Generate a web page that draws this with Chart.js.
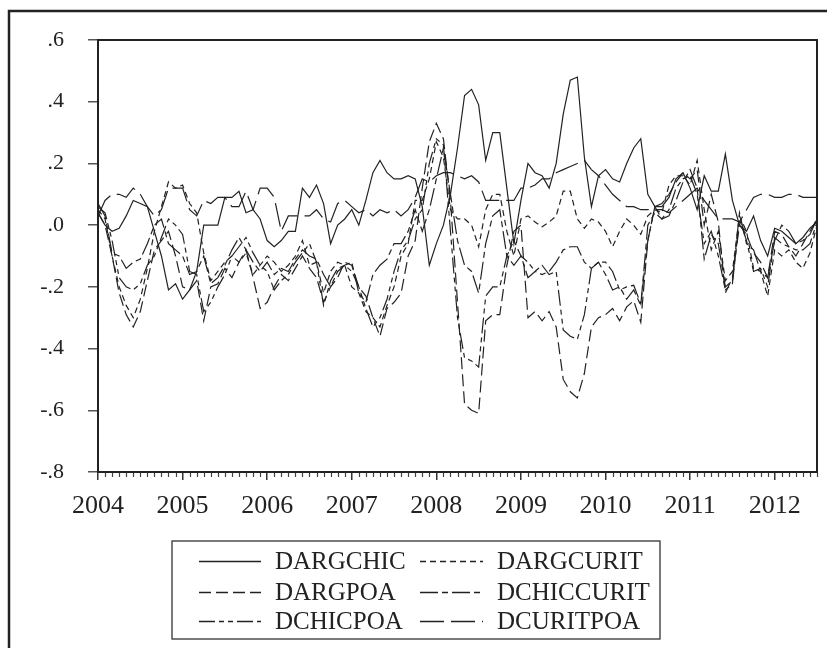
<!DOCTYPE html>
<html>
<head>
<meta charset="utf-8">
<script src="https://cdn.jsdelivr.net/npm/chart.js@4.4.1/dist/chart.umd.min.js"></script>
<style>
html,body{margin:0;padding:0;background:#fff;}
canvas{display:block;}
</style>
</head>
<body>
<canvas id="c" width="827" height="648"></canvas>
<script>
// ---- data (monthly, 2004M01 .. 2012M07) ----
const years = ['2004','2005','2006','2007','2008','2009','2010','2011','2012'];
const yTickLabels = ['-.8','-.6','-.4','-.2','.0','.2','.4','.6'];
const seriesNames = ['DARGCHIC','DARGCURIT','DARGPOA','DCHICCURIT','DCHICPOA','DCURITPOA'];

const DARGCHIC = [
 0.04, 0.00,-0.02,-0.01, 0.03, 0.08, 0.07, 0.06,-0.02,-0.10,-0.21,-0.19,
-0.24,-0.21,-0.15, 0.00, 0.00, 0.00, 0.09, 0.09, 0.11, 0.04, 0.05, 0.02,
-0.05,-0.07,-0.05,-0.02,-0.02, 0.12, 0.09, 0.13, 0.07,-0.06, 0.00, 0.02,
 0.05, 0.00, 0.08, 0.17, 0.21, 0.17, 0.15, 0.15, 0.16, 0.15, 0.06,-0.13,
-0.06, 0.00, 0.10, 0.25, 0.42, 0.44, 0.39, 0.21, 0.30, 0.30, 0.12,-0.06,
 0.08, 0.20, 0.17, 0.16, 0.12, 0.20, 0.36, 0.47, 0.48, 0.22, 0.06, 0.16,
 0.18, 0.15, 0.14, 0.20, 0.25, 0.28, 0.10, 0.06, 0.06, 0.09, 0.15, 0.17,
 0.12, 0.05, 0.16, 0.11, 0.11, 0.23, 0.08, 0.00,-0.02, 0.03,-0.05,-0.10,
-0.01,-0.02,-0.04,-0.06,-0.04,-0.01, 0.01];

const DARGCURIT = [
 0.05, 0.02,-0.10,-0.20,-0.26,-0.30,-0.24,-0.14,-0.02, 0.06, 0.14, 0.12,
 0.13, 0.07, 0.04,-0.09,-0.18,-0.15,-0.12,-0.10,-0.12,-0.09,-0.16,-0.13,
-0.10,-0.12,-0.15,-0.13,-0.10,-0.05,-0.13,-0.12,-0.22,-0.15,-0.12,-0.13,
-0.20,-0.22,-0.28,-0.30,-0.33,-0.26,-0.20,-0.10,-0.06, 0.08, 0.08, 0.15,
 0.27, 0.22, 0.05, 0.02, 0.02, 0.00,-0.07, 0.05, 0.10, 0.10,-0.02,-0.10,
 0.02, 0.03, 0.01,-0.005,0.01, 0.03, 0.11, 0.11, 0.02,-0.01, 0.02, 0.01,
-0.02,-0.07,-0.02, 0.02, 0.00,-0.03, 0.03, 0.05, 0.04, 0.13, 0.16, 0.16,
 0.13, 0.21, 0.05,-0.08,-0.02,-0.18,-0.15, 0.03,-0.02,-0.14,-0.15,-0.23,
-0.08,-0.10,-0.08,-0.12,-0.14,-0.09, 0.00];

const DARGPOA = [
 0.04, 0.00,-0.10,-0.22,-0.29,-0.33,-0.28,-0.18,-0.08,-0.05,-0.02,-0.10,
-0.20,-0.21,-0.18,-0.31,-0.20,-0.19,-0.14,-0.17,-0.12,-0.08,-0.17,-0.27,
-0.25,-0.20,-0.16,-0.18,-0.14,-0.10,-0.14,-0.17,-0.25,-0.20,-0.17,-0.12,
-0.13,-0.20,-0.23,-0.30,-0.36,-0.27,-0.25,-0.22,-0.10,-0.05, 0.12, 0.27,
 0.33, 0.28, 0.08,-0.25,-0.58,-0.60,-0.61,-0.31,-0.29,-0.29,-0.13,-0.02,
 0.00,-0.30,-0.28,-0.31,-0.28,-0.33,-0.50,-0.54,-0.56,-0.48,-0.33,-0.30,
-0.29,-0.27,-0.31,-0.265,-0.245,-0.315,-0.05, 0.06, 0.07, 0.10, 0.14, 0.17,
 0.15, 0.18, 0.00, 0.10, 0.01,-0.22,-0.17, 0.00,-0.03,-0.09,-0.12,-0.17,
-0.02,-0.03,-0.07,-0.10,-0.06,-0.02, 0.02];

const DCHICCURIT = [
 0.07, 0.03,-0.09,-0.10,-0.14,-0.12,-0.11,-0.06, 0.00, 0.02,-0.06,-0.08,
-0.10,-0.16,-0.15,-0.10,-0.19,-0.17,-0.13,-0.08,-0.04,-0.08,-0.12,-0.15,
-0.12,-0.16,-0.14,-0.15,-0.11,-0.08,-0.10,-0.11,-0.16,-0.20,-0.15,-0.13,
-0.12,-0.22,-0.25,-0.16,-0.13,-0.11,-0.06,-0.06,-0.02, 0.05,-0.02, 0.05,
 0.15, 0.25, 0.10,-0.05,-0.13,-0.15,-0.22,-0.06, 0.03, 0.05,-0.10,-0.13,
-0.10,-0.17,-0.15,-0.16,-0.15,-0.12,-0.08,-0.07,-0.07,-0.12,-0.14,-0.12,
-0.16,-0.21,-0.20,-0.24,-0.21,-0.26, 0.00, 0.04, 0.02, 0.03, 0.08, 0.14,
 0.18, 0.12,-0.11,-0.03,-0.06,-0.20,-0.18, 0.04,-0.06,-0.08,-0.15,-0.17,
-0.05, 0.00,-0.02,-0.06,-0.05,-0.03, 0.02];

const DCHICPOA = [
 0.06, 0.04,-0.05,-0.17,-0.20,-0.21,-0.19,-0.13,-0.10,-0.04, 0.02, 0.00,
-0.03,-0.15,-0.16,-0.28,-0.25,-0.20,-0.16,-0.10,-0.07,-0.04,-0.09,-0.13,
-0.15,-0.21,-0.18,-0.16,-0.12,-0.09,-0.06,-0.12,-0.26,-0.18,-0.14,-0.13,
-0.15,-0.20,-0.27,-0.33,-0.30,-0.24,-0.15,-0.08,-0.05, 0.02, 0.05, 0.20,
 0.28, 0.26,-0.02,-0.30,-0.43,-0.44,-0.46,-0.23,-0.20,-0.20,-0.10,-0.05,
-0.10,-0.12,-0.15,-0.13,-0.16,-0.15,-0.34,-0.36,-0.37,-0.29,-0.14,-0.12,
-0.12,-0.15,-0.21,-0.20,-0.195,-0.255,-0.05, 0.06, 0.02, 0.05, 0.12, 0.15,
 0.16, 0.10,-0.06,-0.02,-0.10,-0.21,-0.19, 0.02,-0.05,-0.15,-0.14,-0.20,
-0.04,-0.06,-0.07,-0.08,-0.08,-0.06, 0.01];

const DCURITPOA = [
 0.03, 0.08, 0.10, 0.10, 0.09, 0.12, 0.10, 0.06, 0.03, 0.05, 0.12, 0.12,
 0.12, 0.05, 0.03, 0.08, 0.07, 0.09, 0.09, 0.06, 0.06, 0.11, 0.05, 0.12,
 0.12, 0.09,-0.02, 0.03, 0.03, 0.03, 0.03, 0.05, 0.02, 0.01, 0.07, 0.08,
 0.06, 0.04, 0.05, 0.03, 0.05, 0.04, 0.05, 0.03, 0.05, 0.09, 0.15, 0.14,
 0.16, 0.17, 0.17, 0.16, 0.15, 0.16, 0.14, 0.08, 0.08, 0.08, 0.08, 0.08,
 0.12, 0.12, 0.13, 0.15, 0.15, 0.17, 0.18, 0.19, 0.20, 0.21, 0.18, 0.16,
 0.13, 0.10, 0.08, 0.06, 0.06, 0.05, 0.05, 0.05, 0.05, 0.04, 0.06, 0.08,
 0.10, 0.12, 0.08, 0.05, 0.02, 0.02, 0.02, 0.01, 0.05, 0.09, 0.10, 0.10,
 0.09, 0.09, 0.10, 0.10, 0.09, 0.09, 0.09];

const seriesValues = [DARGCHIC, DARGCURIT, DARGPOA, DCHICCURIT, DCHICPOA, DCURITPOA];

// ---- styles ----
const INK = '#222';
const FONT = '"Liberation Serif", "Times New Roman", serif';
const dashes = [[], [6,4], [12,5], [18,4,6,4], [16,4,5,4,5,4], [24,7]];

const datasets = seriesValues.map((vals, k) => ({
  label: seriesNames[k],
  data: vals.map((v, i) => ({x: i, y: v})),
  borderColor: INK,
  borderWidth: 1.2,
  borderDash: dashes[k],
  pointRadius: 0,
  tension: 0,
  fill: false
}));

const decor = {
  id: 'decor',
  afterDraw(chart) {
    const ctx = chart.ctx;
    const a = chart.chartArea;
    const xs = chart.scales.x;
    ctx.save();
    // outer frame (left & top)
    ctx.strokeStyle = INK;
    ctx.lineWidth = 2.5;
    ctx.beginPath();
    ctx.moveTo(9, 648); ctx.lineTo(9, 11); ctx.lineTo(827, 11);
    ctx.stroke();
    // plot box
    ctx.lineWidth = 2;
    ctx.strokeRect(a.left, a.top, a.right - a.left, a.bottom - a.top);
    // minor monthly ticks
    ctx.lineWidth = 1.2;
    ctx.strokeStyle = '#444';
    ctx.beginPath();
    for (let i = 0; i < DARGCHIC.length; i++) {
      if (i % 12 === 0) continue;
      const px = Math.round(xs.getPixelForValue(i)) + 0.5;
      ctx.moveTo(px, a.bottom + 1);
      ctx.lineTo(px, a.bottom + 5);
    }
    ctx.stroke();
    // legend
    const bx = 172, by = 541, bw = 488, bh = 98;
    ctx.lineWidth = 1.3;
    ctx.strokeStyle = '#333';
    ctx.strokeRect(bx, by, bw, bh);
    const rowsY = [561, 592, 621];
    const lineX = [[199, 261], [420, 483]];
    const textX = [275, 497];
    ctx.font = '25px ' + FONT;
    ctx.textBaseline = 'middle';
    ctx.fillStyle = INK;
    seriesNames.forEach((name, k) => {
      const col = k % 2, row = Math.floor(k / 2);
      const y = rowsY[row];
      ctx.setLineDash(dashes[k]);
      ctx.lineWidth = 1.3;
      ctx.strokeStyle = INK;
      ctx.beginPath();
      ctx.moveTo(lineX[col][0], y + 0.5);
      ctx.lineTo(lineX[col][1], y + 0.5);
      ctx.stroke();
      ctx.setLineDash([]);
      ctx.fillText(name, textX[col], y + 1);
    });
    ctx.restore();
  }
};

new Chart(document.getElementById('c'), {
  type: 'line',
  data: { datasets },
  plugins: [decor],
  options: {
    responsive: false,
    animation: false,
    devicePixelRatio: 1,
    layout: { padding: { top: 40, right: 10, left: 0, bottom: 0 } },
    plugins: { legend: { display: false }, tooltip: { enabled: false } },
    scales: {
      x: {
        type: 'linear',
        min: 0,
        max: DARGCHIC.length - 1,
        afterFit(s) { s.height = 176; },
        afterBuildTicks(s) { s.ticks = s.ticks.filter(t => Math.round(t.value) % 12 === 0); },
        ticks: {
          stepSize: 12, includeBounds: false, autoSkip: false, maxRotation: 0, padding: 11,
          color: INK, font: { family: FONT, size: 26 },
          callback: v => years[Math.round(v / 12)]
        },
        grid: { drawOnChartArea: false, drawTicks: true, tickLength: 8, color: '#333', lineWidth: 1.5 },
        border: { display: true, color: INK, width: 2 }
      },
      y: {
        min: -0.8,
        max: 0.6,
        afterFit(s) { s.width = 98; },
        ticks: {
          stepSize: 0.2, padding: 24, color: INK, font: { family: FONT, size: 22 },
          callback: v => yTickLabels[Math.round((v + 0.8) / 0.2)]
        },
        grid: { drawOnChartArea: false, drawTicks: true, tickLength: 10, color: '#555', lineWidth: 1.5 },
        border: { display: true, color: INK, width: 2 }
      }
    }
  }
});
</script>
</body>
</html>
